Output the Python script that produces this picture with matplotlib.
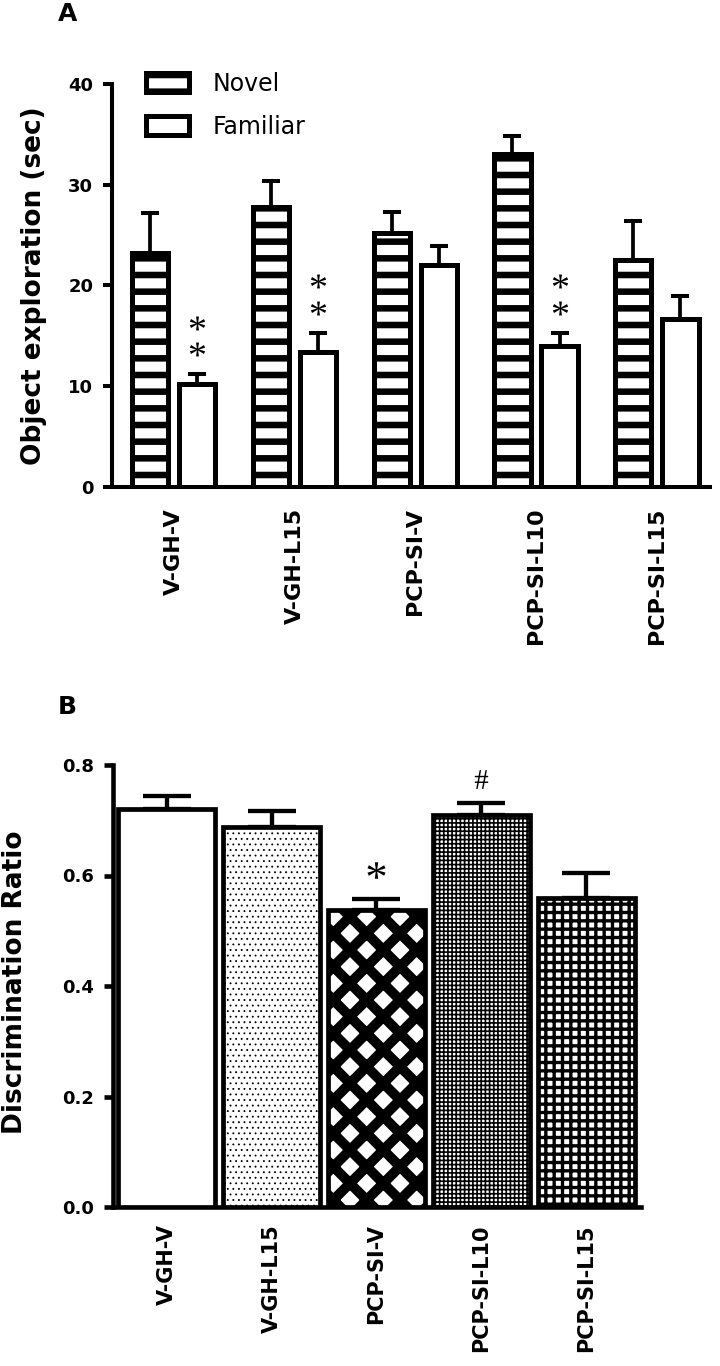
import numpy as np
import matplotlib
matplotlib.use("Agg")
import matplotlib.pyplot as plt
from matplotlib.textpath import TextPath
from matplotlib.font_manager import FontProperties
from matplotlib.path import Path
from matplotlib.transforms import ScaledTranslation
import matplotlib.ticker as mticker

plt.rcParams['font.family'] = ['DejaVu Sans']

# Panel A data
groups = ["V-GH-V", "V-GH-L15", "PCP-SI-V", "PCP-SI-L10", "PCP-SI-L15"]
novel = [23.2, 27.8, 25.2, 33.1, 22.5]
novel_sem = [4.0, 2.6, 2.1, 1.7, 3.9]
familiar = [10.2, 13.4, 22.0, 14.0, 16.7]
familiar_sem = [1.0, 1.9, 1.9, 1.3, 2.3]
familiar_sig = ["**", "**", "", "**", ""]

# Panel B data
ratio = [0.720, 0.688, 0.537, 0.709, 0.559]
ratio_sem = [0.023, 0.029, 0.021, 0.022, 0.046]
ratio_sig = ["", "", "*", "#", ""]
ratio_hatch = [None, "...", "x", "++++", "++"]
ratio_hatch_lw = [1.0, 0.6, 7.2, 1.2, 2.4]

W, H = 720, 1366
fig = plt.figure(figsize=(W / 100, H / 100), dpi=100)


def px_axes(left, top, right, bottom):
    return fig.add_axes([left / W, 1 - bottom / H, (right - left) / W, (bottom - top) / H])


def glyph_marker(ch, family="Liberation Serif"):
    """Text glyph as a marker path centred on its own bbox."""
    tp = TextPath((0, 0), ch, size=10, prop=FontProperties(family=family))
    bb = tp.get_extents()
    c = np.array([(bb.x0 + bb.x1) / 2, (bb.y0 + bb.y1) / 2])
    v = tp.vertices.copy()
    v[tp.codes == Path.CLOSEPOLY] = c
    return Path(v - c, tp.codes)


def set_hatch_lw(patch, lw):
    if hasattr(patch, "set_hatch_linewidth"):
        patch.set_hatch_linewidth(lw)


def style_axes(ax, spine_lw):
    for s in ["top", "right"]:
        ax.spines[s].set_visible(False)
    for s in ["left", "bottom"]:
        ax.spines[s].set_linewidth(spine_lw)
        ax.spines[s].set_capstyle("projecting")
    ax.tick_params(axis="y", length=6.5, width=spine_lw, pad=7, labelsize=13)
    for lab in ax.get_yticklabels():
        lab.set_fontweight("bold")


def mark(ax, x, y, ch, size, dy_pt):
    tr = ax.transData + ScaledTranslation(0, dy_pt / 72, fig.dpi_scale_trans)
    ax.plot([x], [y], ls="none", marker=glyph_marker(ch), ms=size, color="black",
            mew=0, transform=tr, clip_on=False, zorder=5)


# ---------------- Panel A ----------------
axA = px_axes(112, 84, 710, 487)
x = np.arange(len(groups))
off, bw = 0.195, 0.30

bn = axA.bar(x - off, novel, bw, color="white", edgecolor="black", lw=3.6,
             hatch="-", label="Novel", zorder=3)
for p in bn:
    set_hatch_lw(p, 4.7)
bf = axA.bar(x + off, familiar, bw, color="white", edgecolor="black", lw=3.6,
             label="Familiar", zorder=3)
axA.errorbar(x - off, novel, yerr=[np.zeros(len(x)), novel_sem], fmt="none",
             ecolor="black", elinewidth=2.7, capsize=6.5, capthick=2.9, zorder=2)
axA.errorbar(x + off, familiar, yerr=[np.zeros(len(x)), familiar_sem], fmt="none",
             ecolor="black", elinewidth=2.7, capsize=6.5, capthick=2.9, zorder=2)

for i, s in enumerate(familiar_sig):
    top = familiar[i] + familiar_sem[i]
    for k, ch in enumerate(s):
        mark(axA, x[i] + off, top, ch, 11, 18 + 19 * k)

axA.set_xlim(-0.51, 4.44)
axA.set_ylim(0, 40)
axA.set_yticks([0, 10, 20, 30, 40])
axA.set_xticks(x)
axA.set_xticklabels(groups, rotation=90, fontsize=16, fontweight="bold")
axA.tick_params(axis="x", length=0, pad=15)
style_axes(axA, 2.9)
axA.set_ylabel("Object exploration (sec)", fontsize=19, fontweight="bold", va="center")
axA.yaxis.set_label_coords((34 - 112) / 598, (487 - 286) / 403)

leg = axA.legend(handles=[bn, bf], loc="upper left",
                 bbox_to_anchor=((145.5 - 112) / 598, (487 - 72) / 403),
                 frameon=False, fontsize=17, handlelength=1.86, handleheight=0.85,
                 handletextpad=1.0, labelspacing=0.8, borderpad=0, borderaxespad=0)
for h in leg.legend_handles:
    set_hatch_lw(h, 4.7)

fig.text(58 / W, 1 - 2 / H, "A", ha="left", va="top", fontsize=18, fontweight="bold")

# ---------------- Panel B ----------------
axB = px_axes(113, 765, 641, 1207)
xb = np.arange(len(groups))
bars = axB.bar(xb, ratio, 0.93, color="white", edgecolor="black", lw=3.4, zorder=3)
for p, h, hl in zip(bars, ratio_hatch, ratio_hatch_lw):
    if h:
        p.set_hatch(h)
        set_hatch_lw(p, hl)
axB.errorbar(xb, ratio, yerr=[np.zeros(len(xb)), ratio_sem], fmt="none",
             ecolor="black", elinewidth=3.1, capsize=17, capthick=3.1, zorder=2)

sig_size = {"*": 13, "#": 13.5}
sig_dy = {"*": 21, "#": 17.5}
for i, s in enumerate(ratio_sig):
    if s:
        mark(axB, xb[i], ratio[i] + ratio_sem[i], s, sig_size[s], sig_dy[s])

axB.set_xlim(-0.51, 4.52)
axB.set_ylim(0, 0.8)
axB.set_yticks([0.0, 0.2, 0.4, 0.6, 0.8])
axB.yaxis.set_major_formatter(mticker.FormatStrFormatter("%.1f"))
axB.set_xticks(xb)
axB.set_xticklabels(groups, rotation=90, fontsize=15, fontweight="bold")
axB.tick_params(axis="x", length=0, pad=12.5)
style_axes(axB, 3.3)
axB.set_ylabel("Discrimination Ratio", fontsize=19, fontweight="bold", va="center")
axB.yaxis.set_label_coords((15 - 113) / 528, (1207 - 982) / 442)

fig.text(58 / W, 1 - 695 / H, "B", ha="left", va="top", fontsize=18, fontweight="bold")

fig.savefig("out.png", dpi=100)
